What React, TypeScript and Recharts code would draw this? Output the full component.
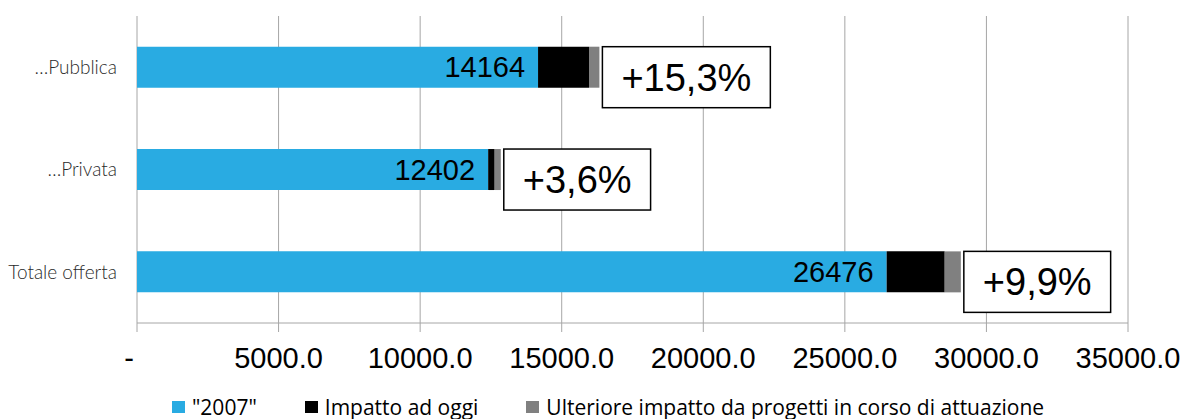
import React from "react";
import { BarChart, Bar, XAxis, YAxis, CartesianGrid, Legend, LabelList } from "recharts";

document.body.style.margin = "0";

const categorie = ["…Pubblica", "…Privata", "Totale offerta"];
const valori2007 = [14164, 12402, 26476];
const impattoAdOggi = [1800, 230, 2050];
const ulterioreImpatto = [367, 216, 570];
const variazioni = ["+15,3%", "+3,6%", "+9,9%"];
const ticksX = [0, 5000, 10000, 15000, 20000, 25000, 30000, 35000];

const serie = [
  { key: "base", name: '"2007"', color: "#29abe2" },
  { key: "impatto", name: "Impatto ad oggi", color: "#000000" },
  { key: "ulteriore", name: "Ulteriore impatto da progetti in corso di attuazione", color: "#808080" },
];

const data = categorie.map((c, i) => ({
  name: c,
  base: valori2007[i],
  impatto: impattoAdOggi[i],
  ulteriore: ulterioreImpatto[i],
  pct: variazioni[i],
}));

const ARIAL = "'Liberation Sans', Arial, sans-serif";

let ctx: CanvasRenderingContext2D | null = null;
function misura(testo: string, font: string) {
  if (!ctx) ctx = document.createElement("canvas").getContext("2d");
  if (!ctx) return testo.length * 20;
  ctx.font = font;
  return ctx.measureText(testo).width;
}

// riquadro con la variazione percentuale, a destra della barra grigia
const Riquadro = (props: any) => {
  const { x, y, width, value } = props;
  const w = misura(String(value), `38px ${ARIAL}`) + 38;
  const bx = x + width + 3;
  return (
    <g>
      <rect x={bx} y={y} width={w} height={61} fill="#fff" stroke="#000" strokeWidth={1.5} />
      <text x={bx + w / 2} y={y + 30.5 + 13.6} textAnchor="middle" fontSize={38} fontFamily={ARIAL} fill="#000">
        {value}
      </text>
    </g>
  );
};

const TickX = (props: any) => {
  const { x, y, payload } = props;
  const v = payload.value;
  return (
    <text x={v === 0 ? x - 8 : x} y={y} dy={21} textAnchor="middle" fontSize={29} fontFamily={ARIAL} fill="#000">
      {v === 0 ? "-" : v.toFixed(1)}
    </text>
  );
};

const Legenda = () => (
  <div style={{ display: "flex", paddingLeft: 172, paddingTop: 4, fontFamily: "'Open Sans', sans-serif", fontSize: 21, color: "#000", lineHeight: "24px" }}>
    {serie.map((s) => (
      <div key={s.key} style={{ display: "flex", alignItems: "center", marginRight: 48 }}>
        <span style={{ display: "inline-block", width: 13, height: 12, background: s.color, marginRight: 7 }} />
        {s.name}
      </div>
    ))}
  </div>
);

export default function App() {
  return (
    <BarChart
      width={1185}
      height={419}
      data={data}
      layout="vertical"
      barCategoryGap="30%"
      margin={{ top: 16, right: 57, left: 0, bottom: 0 }}
    >
      <CartesianGrid horizontal={false} stroke="#a6a6a6" />
      <XAxis
        type="number"
        domain={[0, 35000]}
        ticks={ticksX}
        height={68}
        tickSize={9}
        tickMargin={15}
        stroke="#a6a6a6"
        tick={<TickX />}
        interval={0}
      />
      <YAxis
        yAxisId="bordi"
        type="number"
        domain={[0, 3]}
        ticks={[0, 1, 2, 3]}
        tick={false}
        width={0}
        tickSize={7}
        stroke="#a6a6a6"
      />
      <YAxis
        yAxisId="cat"
        type="category"
        dataKey="name"
        width={137}
        axisLine={false}
        tickLine={false}
        tickSize={0}
        tickMargin={20}
        tick={{ fill: "#2a2a2a", fontSize: 19, fontFamily: "Lato, sans-serif", fontWeight: 300 }}
      />
      <Legend verticalAlign="bottom" align="left" content={<Legenda />} wrapperStyle={{ left: 0, width: 1185, height: 28, bottom: 0 }} />
      <Bar yAxisId="cat" dataKey="base" stackId="a" name={serie[0].name} fill={serie[0].color} isAnimationActive={false}>
        <LabelList dataKey="base" position="insideRight" offset={13} fontSize={29} fontFamily={ARIAL} fill="#000" />
      </Bar>
      <Bar yAxisId="cat" dataKey="impatto" stackId="a" name={serie[1].name} fill={serie[1].color} isAnimationActive={false} />
      <Bar yAxisId="cat" dataKey="ulteriore" stackId="a" name={serie[2].name} fill={serie[2].color} isAnimationActive={false}>
        <LabelList dataKey="pct" content={<Riquadro />} />
      </Bar>
    </BarChart>
  );
}
